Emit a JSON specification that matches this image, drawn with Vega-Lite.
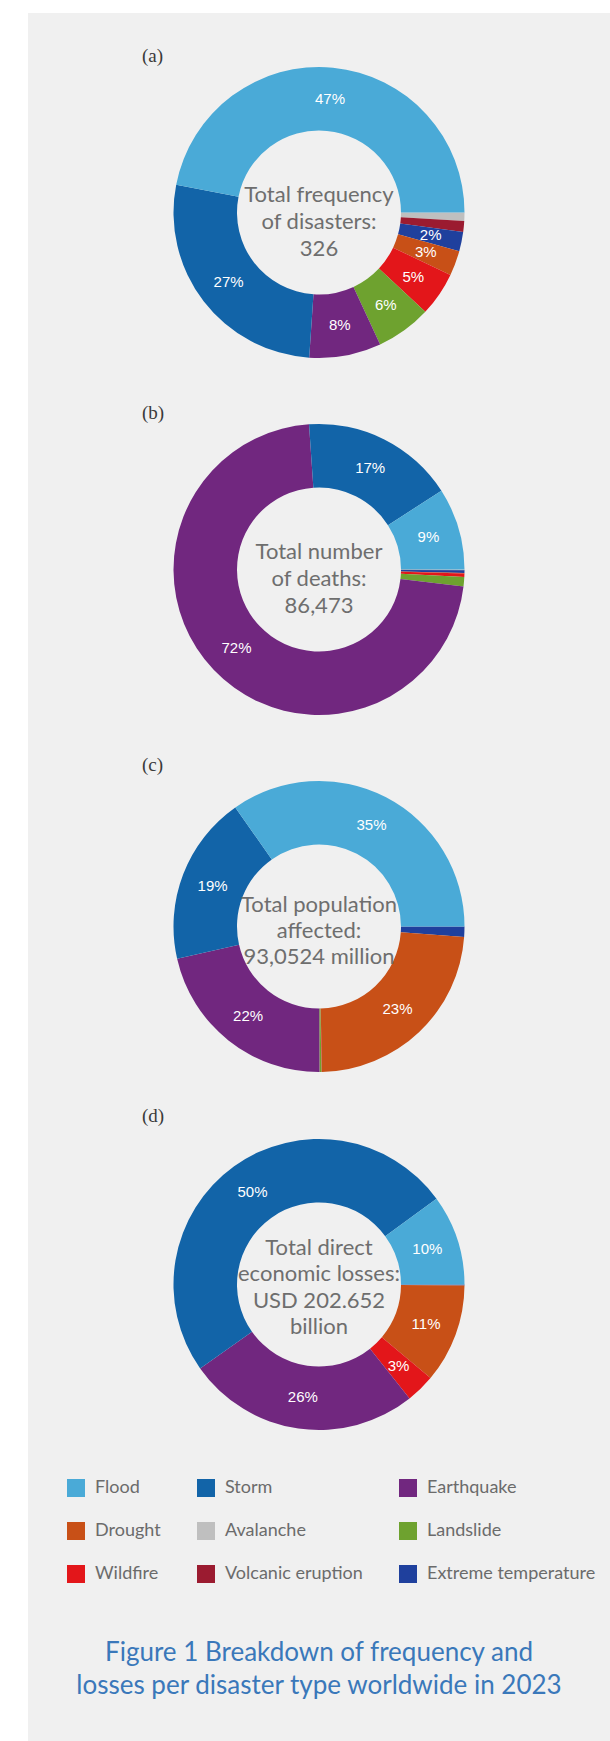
{
  "$schema": "https://vega.github.io/schema/vega-lite/v6.json",
  "background": "#ffffff",
  "padding": {"left": 28, "top": 13, "right": 0, "bottom": 2},
  "spacing": -1,
  "bounds": "flush",
  "datasets": {
    "pies": [
      {"chart": "a", "type": "Avalanche", "value": 3, "seq": 1, "label": ""},
      {"chart": "a", "type": "Volcanic eruption", "value": 4, "seq": 2, "label": ""},
      {"chart": "a", "type": "Extreme temperature", "value": 7, "seq": 3, "label": "2%"},
      {"chart": "a", "type": "Drought", "value": 9, "seq": 4, "label": "3%"},
      {"chart": "a", "type": "Wildfire", "value": 16, "seq": 5, "label": "5%"},
      {"chart": "a", "type": "Landslide", "value": 20, "seq": 6, "label": "6%"},
      {"chart": "a", "type": "Earthquake", "value": 26, "seq": 7, "label": "8%"},
      {"chart": "a", "type": "Storm", "value": 88, "seq": 8, "label": "27%"},
      {"chart": "a", "type": "Flood", "value": 153, "seq": 9, "label": "47%"},
      {"chart": "b", "type": "Avalanche", "value": 50, "seq": 1, "label": ""},
      {"chart": "b", "type": "Volcanic eruption", "value": 30, "seq": 2, "label": ""},
      {"chart": "b", "type": "Extreme temperature", "value": 250, "seq": 3, "label": ""},
      {"chart": "b", "type": "Drought", "value": 50, "seq": 4, "label": ""},
      {"chart": "b", "type": "Wildfire", "value": 330, "seq": 5, "label": ""},
      {"chart": "b", "type": "Landslide", "value": 900, "seq": 6, "label": ""},
      {"chart": "b", "type": "Earthquake", "value": 62300, "seq": 7, "label": "72%"},
      {"chart": "b", "type": "Storm", "value": 14700, "seq": 8, "label": "17%"},
      {"chart": "b", "type": "Flood", "value": 7863, "seq": 9, "label": "9%"},
      {"chart": "c", "type": "Volcanic eruption", "value": 0.01, "seq": 2, "label": ""},
      {"chart": "c", "type": "Extreme temperature", "value": 1.05, "seq": 3, "label": ""},
      {"chart": "c", "type": "Drought", "value": 21.9, "seq": 4, "label": "23%"},
      {"chart": "c", "type": "Wildfire", "value": 0.05, "seq": 5, "label": ""},
      {"chart": "c", "type": "Landslide", "value": 0.2, "seq": 6, "label": ""},
      {"chart": "c", "type": "Earthquake", "value": 20.0, "seq": 7, "label": "22%"},
      {"chart": "c", "type": "Storm", "value": 17.5, "seq": 8, "label": "19%"},
      {"chart": "c", "type": "Flood", "value": 32.34, "seq": 9, "label": "35%"},
      {"chart": "d", "type": "Extreme temperature", "value": 0.2, "seq": 3, "label": ""},
      {"chart": "d", "type": "Drought", "value": 22.3, "seq": 4, "label": "11%"},
      {"chart": "d", "type": "Wildfire", "value": 6.5, "seq": 5, "label": "3%"},
      {"chart": "d", "type": "Earthquake", "value": 52.5, "seq": 7, "label": "26%"},
      {"chart": "d", "type": "Storm", "value": 100.8, "seq": 8, "label": "50%"},
      {"chart": "d", "type": "Flood", "value": 20.35, "seq": 9, "label": "10%"}
    ],
    "centers": [
      {"chart": "a", "t": "Total frequency\nof disasters:\n326"},
      {"chart": "b", "t": "Total number\nof deaths:\n86,473"},
      {"chart": "c", "t": "Total population\naffected:\n93,0524 million"},
      {"chart": "d", "t": "Total direct\neconomic losses:\nUSD 202.652\nbillion"}
    ],
    "caption": [
      {"t": "Figure 1 Breakdown of frequency and\nlosses per disaster type worldwide in 2023"}
    ]
  },
  "vconcat": [
    {
      "width": 582, "height": 399,
      "view": {"fill": "#f0f0f0", "stroke": "transparent", "strokeWidth": 0},
      "title": {"text": "(a)", "anchor": "start", "frame": "group", "orient": "top", "offset": -53, "dx": 114, "font": "Liberation Serif", "fontSize": 19, "fontWeight": "normal", "color": "#3a3a3a"},
      "layer": [
        {"data": {"name": "pies"}, "transform": [{"filter": "datum.chart === 'a'"}],
         "mark": {"type": "arc", "innerRadius": 82, "outerRadius": 145.5},
         "encoding": {
           "theta": {"field": "value", "type": "quantitative", "stack": true, "scale": {"range": [1.5707963, 7.8539816]}},
           "order": {"field": "seq", "type": "quantitative"},
           "color": {"field": "type", "type": "nominal",
             "scale": {"domain": ["Flood", "Storm", "Earthquake", "Drought", "Avalanche", "Landslide", "Wildfire", "Volcanic eruption", "Extreme temperature"],
                       "range": ["#4aaad7", "#1264a8", "#71277f", "#c85017", "#bfbfbf", "#6ea22f", "#e3161a", "#9b1b30", "#1f409d"]},
             "legend": {"orient": "none", "legendX": 39, "legendY": 1466, "title": null, "columns": 3, "direction": "horizontal"}}
         }},
        {"data": {"name": "pies"}, "transform": [{"filter": "datum.chart === 'a'"}],
         "mark": {"type": "text", "radius": 114, "font": "Liberation Sans", "fontSize": 15, "fill": "#ffffff", "align": "center", "baseline": "middle"},
         "encoding": {
           "theta": {"field": "value", "type": "quantitative", "stack": true},
           "order": {"field": "seq", "type": "quantitative"},
           "text": {"field": "label", "type": "nominal"}
         }},
        {"data": {"name": "centers"}, "transform": [{"filter": "datum.chart === 'a'"}],
         "mark": {"type": "text", "lineBreak": "\n", "font": "Lato", "fontSize": 22, "lineHeight": 27, "dy": -18, "fill": "#6e6e6e", "align": "center", "baseline": "middle"},
         "encoding": {"text": {"field": "t", "type": "nominal"}}}
      ]
    },
    {
      "width": 582, "height": 315,
      "view": {"fill": "#f0f0f0", "stroke": "transparent", "strokeWidth": 0},
      "title": {"text": "(b)", "anchor": "start", "frame": "group", "orient": "top", "offset": -11, "dx": 114, "font": "Liberation Serif", "fontSize": 19, "fontWeight": "normal", "color": "#3a3a3a"},
      "layer": [
        {"data": {"name": "pies"}, "transform": [{"filter": "datum.chart === 'b'"}],
         "mark": {"type": "arc", "innerRadius": 82, "outerRadius": 145.5},
         "encoding": {
           "theta": {"field": "value", "type": "quantitative", "stack": true, "scale": {"range": [1.5707963, 7.8539816]}},
           "order": {"field": "seq", "type": "quantitative"},
           "color": {"field": "type", "type": "nominal",
             "scale": {"domain": ["Flood", "Storm", "Earthquake", "Drought", "Avalanche", "Landslide", "Wildfire", "Volcanic eruption", "Extreme temperature"],
                       "range": ["#4aaad7", "#1264a8", "#71277f", "#c85017", "#bfbfbf", "#6ea22f", "#e3161a", "#9b1b30", "#1f409d"]},
             "legend": {"orient": "none", "legendX": 39, "legendY": 1466, "title": null, "columns": 3, "direction": "horizontal"}}
         }},
        {"data": {"name": "pies"}, "transform": [{"filter": "datum.chart === 'b'"}],
         "mark": {"type": "text", "radius": 114, "font": "Liberation Sans", "fontSize": 15, "fill": "#ffffff", "align": "center", "baseline": "middle"},
         "encoding": {
           "theta": {"field": "value", "type": "quantitative", "stack": true},
           "order": {"field": "seq", "type": "quantitative"},
           "text": {"field": "label", "type": "nominal"}
         }},
        {"data": {"name": "centers"}, "transform": [{"filter": "datum.chart === 'b'"}],
         "mark": {"type": "text", "lineBreak": "\n", "font": "Lato", "fontSize": 22, "lineHeight": 27, "dy": -18, "fill": "#6e6e6e", "align": "center", "baseline": "middle"},
         "encoding": {"text": {"field": "t", "type": "nominal"}}}
      ]
    },
    {
      "width": 582, "height": 399,
      "view": {"fill": "#f0f0f0", "stroke": "transparent", "strokeWidth": 0},
      "title": {"text": "(c)", "anchor": "start", "frame": "group", "orient": "top", "offset": -48, "dx": 114, "font": "Liberation Serif", "fontSize": 19, "fontWeight": "normal", "color": "#3a3a3a"},
      "layer": [
        {"data": {"name": "pies"}, "transform": [{"filter": "datum.chart === 'c'"}],
         "mark": {"type": "arc", "innerRadius": 82, "outerRadius": 145.5},
         "encoding": {
           "theta": {"field": "value", "type": "quantitative", "stack": true, "scale": {"range": [1.5707963, 7.8539816]}},
           "order": {"field": "seq", "type": "quantitative"},
           "color": {"field": "type", "type": "nominal",
             "scale": {"domain": ["Flood", "Storm", "Earthquake", "Drought", "Avalanche", "Landslide", "Wildfire", "Volcanic eruption", "Extreme temperature"],
                       "range": ["#4aaad7", "#1264a8", "#71277f", "#c85017", "#bfbfbf", "#6ea22f", "#e3161a", "#9b1b30", "#1f409d"]},
             "legend": {"orient": "none", "legendX": 39, "legendY": 1466, "title": null, "columns": 3, "direction": "horizontal"}}
         }},
        {"data": {"name": "pies"}, "transform": [{"filter": "datum.chart === 'c'"}],
         "mark": {"type": "text", "radius": 114, "font": "Liberation Sans", "fontSize": 15, "fill": "#ffffff", "align": "center", "baseline": "middle"},
         "encoding": {
           "theta": {"field": "value", "type": "quantitative", "stack": true},
           "order": {"field": "seq", "type": "quantitative"},
           "text": {"field": "label", "type": "nominal"}
         }},
        {"data": {"name": "centers"}, "transform": [{"filter": "datum.chart === 'c'"}],
         "mark": {"type": "text", "lineBreak": "\n", "font": "Lato", "fontSize": 22, "lineHeight": 26, "dy": -22, "fill": "#6e6e6e", "align": "center", "baseline": "middle"},
         "encoding": {"text": {"field": "t", "type": "nominal"}}}
      ]
    },
    {
      "width": 582, "height": 317,
      "view": {"fill": "#f0f0f0", "stroke": "transparent", "strokeWidth": 0},
      "title": {"text": "(d)", "anchor": "start", "frame": "group", "orient": "top", "offset": 0, "dx": 114, "font": "Liberation Serif", "fontSize": 19, "fontWeight": "normal", "color": "#3a3a3a"},
      "layer": [
        {"data": {"name": "pies"}, "transform": [{"filter": "datum.chart === 'd'"}],
         "mark": {"type": "arc", "innerRadius": 82, "outerRadius": 145.5},
         "encoding": {
           "theta": {"field": "value", "type": "quantitative", "stack": true, "scale": {"range": [1.5707963, 7.8539816]}},
           "order": {"field": "seq", "type": "quantitative"},
           "color": {"field": "type", "type": "nominal",
             "scale": {"domain": ["Flood", "Storm", "Earthquake", "Drought", "Avalanche", "Landslide", "Wildfire", "Volcanic eruption", "Extreme temperature"],
                       "range": ["#4aaad7", "#1264a8", "#71277f", "#c85017", "#bfbfbf", "#6ea22f", "#e3161a", "#9b1b30", "#1f409d"]},
             "legend": {"orient": "none", "legendX": 39, "legendY": 1466, "title": null, "columns": 3, "direction": "horizontal"}}
         }},
        {"data": {"name": "pies"}, "transform": [{"filter": "datum.chart === 'd'"}],
         "mark": {"type": "text", "radius": 114, "font": "Liberation Sans", "fontSize": 15, "fill": "#ffffff", "align": "center", "baseline": "middle"},
         "encoding": {
           "theta": {"field": "value", "type": "quantitative", "stack": true},
           "order": {"field": "seq", "type": "quantitative"},
           "text": {"field": "label", "type": "nominal"}
         }},
        {"data": {"name": "centers"}, "transform": [{"filter": "datum.chart === 'd'"}],
         "mark": {"type": "text", "lineBreak": "\n", "font": "Lato", "fontSize": 22, "lineHeight": 26.5, "dy": -37, "fill": "#6e6e6e", "align": "center", "baseline": "middle"},
         "encoding": {"text": {"field": "t", "type": "nominal"}}}
      ]
    },
    {
      "width": 582, "height": 119,
      "view": {"fill": "#f0f0f0", "stroke": "transparent", "strokeWidth": 0},
      "data": {"values": []},
      "mark": {"type": "text"},
      "encoding": {}
    },
    {
      "width": 582, "height": 182,
      "view": {"fill": "#f0f0f0", "stroke": "transparent", "strokeWidth": 0},
      "data": {"name": "caption"},
      "mark": {"type": "text", "lineBreak": "\n", "font": "Lato", "fontSize": 26, "lineHeight": 33, "fill": "#3a78ba", "align": "center", "baseline": "middle"},
      "encoding": {"text": {"field": "t", "type": "nominal"}}
    }
  ],
  "resolve": {"scale": {"theta": "independent"}},
  "config": {
    "view": {"stroke": "transparent", "strokeWidth": 0, "fill": "#f0f0f0"},
    "style": {"cell": {"fill": "#f0f0f0", "stroke": "transparent", "strokeWidth": 0}},
    "concat": {"spacing": -1},
    "legend": {
      "symbolType": "square",
      "symbolSize": 324,
      "symbolStrokeWidth": 0,
      "symbolOpacity": 1,
      "labelFont": "Lato",
      "labelFontSize": 18,
      "labelColor": "#6b6b6b",
      "labelOffset": 10,
      "labelLimit": 300,
      "rowPadding": 25,
      "columnPadding": 36,
      "padding": 0
    }
  }
}
